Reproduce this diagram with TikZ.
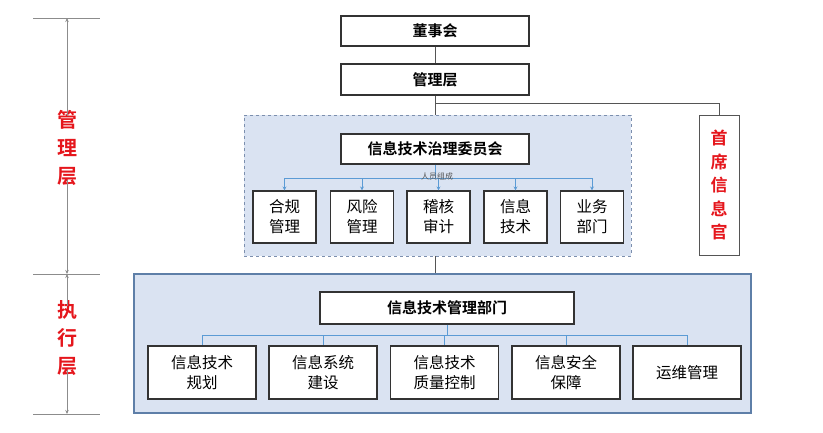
\documentclass[tikz,border=0pt]{standalone}
\usepackage{fontspec}
\setmainfont{Noto Sans CJK SC}
\newfontfamily\cjkb{Noto Sans CJK SC Bold}
\usetikzlibrary{arrows.meta}
\definecolor{panel}{HTML}{DAE3F2}
\definecolor{panelline}{HTML}{5E7FA8}
\definecolor{dashline}{HTML}{7C8FAE}
\definecolor{busblue}{HTML}{5B9BD5}
\definecolor{boxline}{HTML}{333333}
\definecolor{conn}{HTML}{555555}
\definecolor{redtxt}{HTML}{E5161C}
\definecolor{scalegray}{HTML}{8C8C8C}
\tikzset{
  topbox/.style={draw=boxline, line width=1.1pt, fill=white, inner sep=0pt, minimum width=188pt, minimum height=30pt, font=\cjkb\fontsize{15}{18}\selectfont},
  unitbox/.style={draw=boxline, line width=1.1pt, fill=white, inner sep=0pt, align=center, minimum width=63pt, minimum height=52pt, font=\fontsize{15.5}{20}\selectfont},
  execbox/.style={draw=boxline, line width=1.1pt, fill=white, inner sep=0pt, align=center, minimum width=108pt, minimum height=53pt, font=\fontsize{15.5}{20}\selectfont},
  dashpanel/.style={draw=dashline, dashed, line width=0.9pt, fill=panel, inner sep=0pt},
  solidpanel/.style={draw=panelline, line width=1.2pt, fill=panel, inner sep=0pt},
  link/.style={draw=conn, line width=0.9pt},
  bus/.style={draw=busblue, line width=1pt},
  busarrow/.style={draw=busblue, line width=1pt, -{Stealth[length=4pt,width=4pt]}},
  scaleline/.style={draw=scalegray, line width=0.9pt},
  scalearrow/.style={draw=scalegray, line width=0.9pt, -{Stealth[length=4pt,width=3.5pt]}},
  redlabel/.style={text=redtxt, align=center, inner sep=0pt, font=\cjkb\fontsize{20}{28}\selectfont},
}
\begin{document}
\begin{tikzpicture}[x=1pt,y=-1pt]
\useasboundingbox (0,0) rectangle (823,432);
% panels
\node[dashpanel, minimum width=387pt, minimum height=141pt] (gov) at (437.5,185.5) {};
\node[solidpanel, minimum width=617pt, minimum height=139pt] (exec) at (442.5,343.5) {};
% top boxes
\node[topbox] (board) at (435,31) {董事会};
\node[topbox, minimum height=31pt] (mgmt) at (435,79.5) {管理层};
\node[draw=conn, line width=0.9pt, fill=white, inner sep=0pt, minimum width=40pt, minimum height=140pt, text=redtxt, align=center, font=\cjkb\fontsize{17}{23.5}\selectfont] (cio) at (719,185) {首\\席\\信\\息\\官};
% governance
\node[topbox] (comm) at (435,149) {信息技术治理委员会};
\node[unitbox] (u1) at (284.5,217) {合规\\管理};
\node[unitbox] (u2) at (362,217) {风险\\管理};
\node[unitbox] (u3) at (438.5,217) {稽核\\审计};
\node[unitbox] (u4) at (515.5,217) {信息\\技术};
\node[unitbox] (u5) at (592,217) {业务\\部门};
% execution
\node[topbox, minimum width=254pt, minimum height=32pt] (dept) at (447,308) {信息技术管理部门};
\node[execbox] (e1) at (202,372.5) {信息技术\\规划};
\node[execbox] (e2) at (323,372.5) {信息系统\\建设};
\node[execbox] (e3) at (444.5,372.5) {信息技术\\质量控制};
\node[execbox] (e4) at (566,372.5) {信息安全\\保障};
\node[execbox] (e5) at (687,372.5) {运维管理};
% top connectors
\coordinate (j1) at (435,103);
\draw[link] (board.south) -- (mgmt.north);
\draw[link] (mgmt.south) -- (gov.north -| mgmt.south);
\draw[link] (j1) -| (cio.north);
\draw[link] (gov.south -| mgmt.south) -- (exec.north -| mgmt.south);
% governance bus
\coordinate (b1) at (435,178);
\draw[bus] (comm.south) -- (b1);
\draw[bus] (b1 -| u1) -- (b1 -| u5);
\foreach \u in {u1,u2,u3,u4,u5} \draw[busarrow] (b1 -| \u) -- (\u.north);
\node[text=conn, inner sep=0pt, font=\fontsize{8}{9}\selectfont] (staff) at (437,176.5) {人员组成};
% execution bus
\coordinate (b2) at (447,335);
\draw[bus] (dept.south) -- (b2);
\draw[bus] (b2 -| e1) -- (b2 -| e5);
\foreach \e in {e1,e2,e3,e4,e5} \draw[bus] (b2 -| \e) -- (\e.north);
% left scale
\coordinate (t1) at (33,18); \coordinate (t2) at (100,18);
\coordinate (m1) at (33,274); \coordinate (m2) at (100,274);
\coordinate (d1) at (33,414); \coordinate (d2) at (100,414);
\draw[scaleline] (t1) -- (t2);
\draw[scaleline] (m1) -- (m2);
\draw[scaleline] (d1) -- (d2);
\node[redlabel] (lm) at (67,148) {管\\理\\层};
\node[redlabel] (le) at (67,338) {执\\行\\层};
\draw[scalearrow] ([yshift=-6pt]lm.north) -- (lm.north |- t1);
\draw[scalearrow] ([yshift=6pt]lm.south) -- (lm.south |- m1);
\draw[scalearrow] ([yshift=-6pt]le.north) -- (le.north |- m1);
\draw[scalearrow] ([yshift=6pt]le.south) -- (le.south |- d1);
\end{tikzpicture}
\end{document}
